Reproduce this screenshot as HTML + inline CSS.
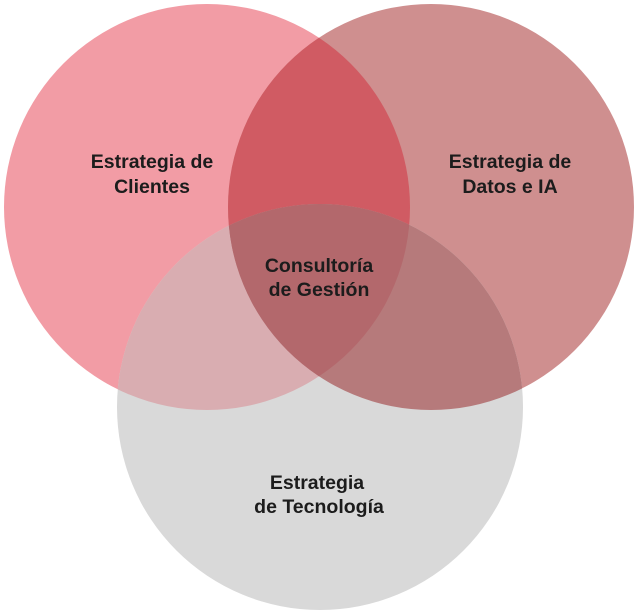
<!DOCTYPE html>
<html><head><meta charset="utf-8"><style>
html,body{margin:0;padding:0;background:#fff;}
svg{display:block}
text{font-family:"Liberation Sans",sans-serif;font-weight:bold;font-size:19.5px;fill:#1c1c1c;text-anchor:middle}
</style></head><body>
<svg width="638" height="615" viewBox="0 0 638 615" xmlns="http://www.w3.org/2000/svg">
<defs>
<clipPath id="cR"><circle cx="431" cy="207" r="203"/></clipPath>
<clipPath id="cB"><circle cx="320" cy="407" r="203"/></clipPath>
</defs>
<circle cx="207" cy="207" r="203" fill="#f29ca5"/>
<circle cx="431" cy="207" r="203" fill="#cf8f8f"/>
<circle cx="320" cy="407" r="203" fill="#d9d9d9"/>
<circle cx="207" cy="207" r="203" fill="#d05b63" clip-path="url(#cR)"/>
<circle cx="207" cy="207" r="203" fill="#d9adb1" clip-path="url(#cB)"/>
<circle cx="431" cy="207" r="203" fill="#b67a7b" clip-path="url(#cB)"/>
<g clip-path="url(#cB)"><circle cx="207" cy="207" r="203" fill="#b3686c" clip-path="url(#cR)"/></g>
<text x="152" y="168">Estrategia de</text>
<text x="152" y="193">Clientes</text>
<text x="510" y="168">Estrategia de</text>
<text x="510" y="193">Datos e IA</text>
<text x="319" y="272">Consultoría</text>
<text x="319" y="296">de Gestión</text>
<text x="317" y="489">Estrategia</text>
<text x="319" y="513">de Tecnología</text>
</svg>
</body></html>
